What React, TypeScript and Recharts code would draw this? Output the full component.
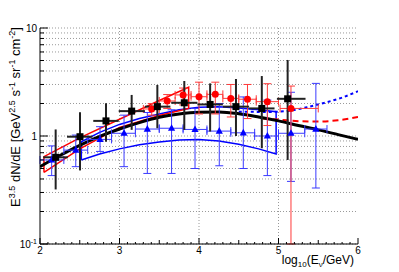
import React from "react";
import {
  ComposedChart,
  Line,
  Scatter,
  ErrorBar,
  XAxis,
  YAxis,
  CartesianGrid,
} from "recharts";

// ---------- data ----------
const blackX = [2.197, 2.503, 2.83, 3.153, 3.476, 3.815, 4.14, 4.465, 4.79, 5.115];
const blackY = [0.635, 0.985, 1.38, 1.7, 1.87, 2.03, 1.96, 1.87, 1.8, 2.21];
const blackLo = [0.32, 0.48, 0.885, 1.14, 1.18, 1.14, 1.1, 1.0, 0.77, 0.6];
const blackHi = [1.15, 1.66, 2.01, 2.4, 2.97, 3.23, 3.07, 3.37, 3.59, 5.06];
const blackXLo = [2.04, 2.34, 2.67, 2.99, 3.32, 3.65, 3.98, 4.3, 4.63, 4.98];
const blackXHi = [2.35, 2.66, 2.99, 3.32, 3.64, 3.98, 4.3, 4.63, 4.95, 5.34];

const redX = [3.405, 3.6, 3.8, 4.0, 4.205, 4.4, 4.61, 4.86, 5.157];
const redY = [1.78, 2.11, 2.4, 2.31, 2.43, 2.23, 2.19, 2.08, 1.8];
const redLo = [1.56, 1.8, 1.94, 1.6, 1.6, 1.5, 1.45, 1.25, 0.1];
const redHi = [2.0, 2.42, 2.78, 3.15, 3.15, 3.0, 3.0, 3.05, 2.9];
const redXLo = [3.3, 3.5, 3.7, 3.9, 4.1, 4.3, 4.5, 4.72, 5.02];
const redXHi = [3.5, 3.7, 3.9, 4.1, 4.3, 4.5, 4.72, 5.0, 5.5];

const blueX = [2.147, 2.45, 2.755, 3.057, 3.35, 3.655, 3.95, 4.255, 4.557, 4.86, 5.157, 5.47];
const blueY = [0.6, 0.74, 0.93, 1.06, 1.16, 1.18, 1.15, 1.11, 1.07, 1.0, 1.06, 1.16];
const blueLo = [0.43, 0.52, 0.72, 0.52, 0.45, 0.45, 0.5, 0.53, 0.5, 0.43, 0.38, 0.33];
const blueHi = [0.81, 1.02, 1.22, 1.56, 1.65, 1.75, 1.8, 2.0, 2.3, 2.15, 2.54, 3.07];
const blueXLo = [2.0, 2.3, 2.6, 2.9, 3.2, 3.5, 3.8, 4.1, 4.4, 4.7, 5.0, 5.33];
const blueXHi = [2.3, 2.6, 2.9, 3.2, 3.5, 3.8, 4.1, 4.4, 4.7, 5.0, 5.33, 5.61];

const fitX = [2.0, 2.25, 2.5, 2.75, 3.0, 3.25, 3.5, 3.75, 4.0, 4.25, 4.5, 4.75, 5.0, 5.25, 5.5, 5.75, 6.0];
const fitY = [0.52, 0.66, 0.82, 0.99, 1.16, 1.33, 1.49, 1.6, 1.66, 1.67, 1.61, 1.5, 1.38, 1.25, 1.14, 1.03, 0.93];

// red band outline (closed)
const redBandX = [2.05, 2.05, 2.5, 3.0, 3.5, 3.87, 3.87, 3.5, 3.0, 2.5, 2.05];
const redBandY = [0.46, 0.644, 0.96, 1.43, 2.13, 2.83, 1.8, 1.55, 1.2, 0.76, 0.46];

// blue band outline (closed)
const blueBandX = [2.52, 2.52, 2.75, 3.0, 3.25, 3.5, 3.75, 4.0, 4.25, 4.5, 4.75, 4.97, 4.97, 4.75, 4.5, 4.25, 4.0, 3.75, 3.5, 3.25, 3.0, 2.75, 2.52];
const blueBandY = [0.6, 0.885, 1.08, 1.28, 1.45, 1.6, 1.75, 1.85, 1.87, 1.82, 1.75, 1.68, 0.68, 0.76, 0.84, 0.9, 0.93, 0.92, 0.88, 0.83, 0.76, 0.68, 0.6];

const blueDotX = [4.5, 4.85, 5.1, 5.36, 5.6, 5.8, 6.0];
const blueDotY = [1.68, 1.67, 1.7, 1.85, 2.05, 2.27, 2.6];

const redDashX = [4.8, 5.0, 5.25, 5.5, 5.75, 6.0];
const redDashY = [1.45, 1.42, 1.37, 1.36, 1.4, 1.5];

const xTicks = [2, 3, 4, 5, 6];
const yMajor = [0.1, 1, 10];

// ---------- builders ----------
const pts = (xs: number[], ys: number[]) => xs.map((x, i) => ({ x, y: ys[i] }));
const errPts = (xs: number[], ys: number[], lo: number[], hi: number[], xl: number[], xh: number[]) =>
  xs.map((x, i) => ({
    x,
    y: ys[i],
    ey: [ys[i] - lo[i], hi[i] - ys[i]],
    ex: [x - xl[i], xh[i] - x],
  }));

const blackData = errPts(blackX, blackY, blackLo, blackHi, blackXLo, blackXHi);
const redData = errPts(redX, redY, redLo, redHi, redXLo, redXHi);
const blueData = errPts(blueX, blueY, blueLo, blueHi, blueXLo, blueXHi);

const xAllTicks: number[] = [];
for (let i = 0; i <= 40; i++) xAllTicks.push(Math.round((2 + i * 0.1) * 10) / 10);
const yAllTicks: number[] = [];
[0.1, 1].forEach((d) => {
  for (let k = 1; k <= 9; k++) yAllTicks.push(Math.round(d * k * 1000) / 1000);
});
yAllTicks.push(10);

const FONT = "'Liberation Sans', Arial, Helvetica, sans-serif";

const isInt = (v: number) => Math.abs(v - Math.round(v)) < 1e-6;
const isHalf = (v: number) => Math.abs(v * 2 - Math.round(v * 2)) < 1e-6;
const isPow10 = (v: number) => yMajor.some((m) => Math.abs(v - m) < 1e-9);

const BottomTick = (p: any) => {
  const { x, y, payload } = p;
  const v = payload.value;
  const len = isInt(v) ? 6 : isHalf(v) ? 4 : 2;
  return (
    <g>
      <line x1={x} x2={x} y1={y} y2={y - len} stroke="#000" strokeWidth={1} />
      {xTicks.includes(v) && (
        <text x={x} y={y + 10} textAnchor="middle" fontSize={10} fontFamily={FONT} fill="#000">
          {v}
        </text>
      )}
    </g>
  );
};

const TopTick = (p: any) => {
  const { x, y, payload } = p;
  const v = payload.value;
  const len = isInt(v) ? 6 : isHalf(v) ? 4 : 2;
  return <line x1={x} x2={x} y1={y} y2={y + len} stroke="#000" strokeWidth={1} />;
};

const LeftTick = (p: any) => {
  const { x, y, payload } = p;
  const v = payload.value;
  const major = isPow10(v);
  const len = major ? 8 : 4;
  let label: React.ReactNode = null;
  if (major) {
    if (v === 0.1) {
      label = (
        <text x={x - 3} y={y + 4} textAnchor="end" fontSize={10} fontFamily={FONT} fill="#000">
          10<tspan fontSize={7} dy={-4}>-1</tspan>
        </text>
      );
    } else {
      label = (
        <text x={x - 3} y={y + 4} textAnchor="end" fontSize={10} fontFamily={FONT} fill="#000">
          {v}
        </text>
      );
    }
  }
  return (
    <g>
      <line x1={x} x2={x + len} y1={y} y2={y} stroke="#000" strokeWidth={1} />
      {label}
    </g>
  );
};

const RightTick = (p: any) => {
  const { x, y, payload } = p;
  const v = payload.value;
  const len = isPow10(v) ? 8 : 4;
  return <line x1={x} x2={x - len} y1={y} y2={y} stroke="#000" strokeWidth={1} />;
};

const XTitle = () => (
  <text x={346} y={256} textAnchor="end" fontSize={12} fontFamily={FONT} fill="#000">
    log<tspan fontSize={8} dy={3}>10</tspan>
    <tspan dy={-3}>(E</tspan>
    <tspan fontSize={8} dy={3}>ν</tspan>
    <tspan dy={-3}>/GeV)</tspan>
  </text>
);

const YTitle = () => (
  <text
    x={11.5}
    y={19}
    transform="rotate(-90 11.5 19)"
    textAnchor="end"
    fontSize={13}
    fontFamily={FONT}
    fill="#000"
  >
    E<tspan fontSize={9} dy={-5}>3.5</tspan>
    <tspan dy={5}> dN/dE [GeV</tspan>
    <tspan fontSize={9} dy={-5}>2.5</tspan>
    <tspan dy={5}> s</tspan>
    <tspan fontSize={9} dy={-5}>-1</tspan>
    <tspan dy={5}> sr</tspan>
    <tspan fontSize={9} dy={-5}>-1</tspan>
    <tspan dy={5}> cm</tspan>
    <tspan fontSize={9} dy={-5}>-2</tspan>
    <tspan dy={5}>]</tspan>
  </text>
);

const Square = (p: any) => (
  <rect x={p.cx - 3.5} y={p.cy - 3.5} width={7} height={7} fill="#000" />
);
const Circle = (p: any) => <circle cx={p.cx} cy={p.cy} r={3.5} fill="#ff0000" />;
const Tri = (p: any) => (
  <path
    d={`M${p.cx},${p.cy - 4} L${p.cx + 3.6},${p.cy + 2.6} L${p.cx - 3.6},${p.cy + 2.6} Z`}
    fill="#0000ff"
  />
);

export default function App() {
  return (
    <ComposedChart
      width={391}
      height={264}
      margin={{ top: 20, right: 41, bottom: 0, left: 0 }}
      style={{ background: "#fff" }}
    >
      <CartesianGrid
        stroke="#999"
        strokeDasharray="1 2"
        verticalValues={[3, 4, 5]}
        horizontalValues={yAllTicks}
      />
      <XAxis
        dataKey="x"
        type="number"
        domain={[2, 6]}
        allowDataOverflow
        ticks={xAllTicks}
        interval={0}
        height={28}
        tickSize={0}
        tickMargin={0}
        tick={<BottomTick />}
        axisLine={{ stroke: "#000" }}
        label={{ content: () => <XTitle /> }}
      />
      <XAxis
        xAxisId="top"
        orientation="top"
        dataKey="x"
        type="number"
        domain={[2, 6]}
        allowDataOverflow
        ticks={xAllTicks}
        interval={0}
        height={0}
        tickSize={0}
        tickMargin={0}
        tick={<TopTick />}
        axisLine={{ stroke: "#000" }}
      />
      <YAxis
        type="number"
        scale="log"
        domain={[0.1, 10]}
        allowDataOverflow
        ticks={yAllTicks}
        interval={0}
        width={32}
        tickSize={0}
        tickMargin={0}
        tick={<LeftTick />}
        axisLine={{ stroke: "#000" }}
        label={{ content: () => <YTitle /> }}
      />
      <YAxis
        yAxisId="right"
        orientation="right"
        type="number"
        scale="log"
        domain={[0.1, 10]}
        allowDataOverflow
        ticks={yAllTicks}
        interval={0}
        width={0}
        tickSize={0}
        tickMargin={0}
        tick={<RightTick />}
        axisLine={{ stroke: "#444", strokeWidth: 1.5 }}
      />

      <Line
        data={pts(blueBandX, blueBandY)}
        dataKey="y"
        type="linear"
        stroke="#0000ff"
        strokeWidth={1.5}
        dot={false}
        isAnimationActive={false}
      />
      <Line
        data={pts(redBandX, redBandY)}
        dataKey="y"
        type="linear"
        stroke="#ff0000"
        strokeWidth={1.5}
        dot={false}
        isAnimationActive={false}
      />
      <Line
        data={pts(blueDotX, blueDotY)}
        dataKey="y"
        type="monotone"
        stroke="#0000ff"
        strokeWidth={2}
        strokeDasharray="3 3"
        dot={false}
        isAnimationActive={false}
      />
      <Line
        data={pts(redDashX, redDashY)}
        dataKey="y"
        type="monotone"
        stroke="#ff0000"
        strokeWidth={2}
        strokeDasharray="6 4"
        dot={false}
        isAnimationActive={false}
      />
      <Line
        data={pts(fitX, fitY)}
        dataKey="y"
        type="monotone"
        stroke="#000"
        strokeWidth={3}
        dot={false}
        isAnimationActive={false}
      />

      <Scatter data={blueData} dataKey="y" shape={<Tri />} isAnimationActive={false}>
        <ErrorBar dataKey="ey" direction="y" stroke="#3a3aff" strokeWidth={1} width={4} />
        <ErrorBar dataKey="ex" direction="x" stroke="#3a3aff" strokeWidth={1} width={4} />
      </Scatter>
      <Scatter data={redData} dataKey="y" shape={<Circle />} isAnimationActive={false}>
        <ErrorBar dataKey="ey" direction="y" stroke="#ff3a3a" strokeWidth={1} width={4} />
        <ErrorBar dataKey="ex" direction="x" stroke="#ff3a3a" strokeWidth={1} width={4} />
      </Scatter>
      <Scatter data={blackData} dataKey="y" shape={<Square />} isAnimationActive={false}>
        <ErrorBar dataKey="ey" direction="y" stroke="#222" strokeWidth={2} width={0} />
        <ErrorBar dataKey="ex" direction="x" stroke="#222" strokeWidth={2} width={0} />
      </Scatter>
    </ComposedChart>
  );
}
